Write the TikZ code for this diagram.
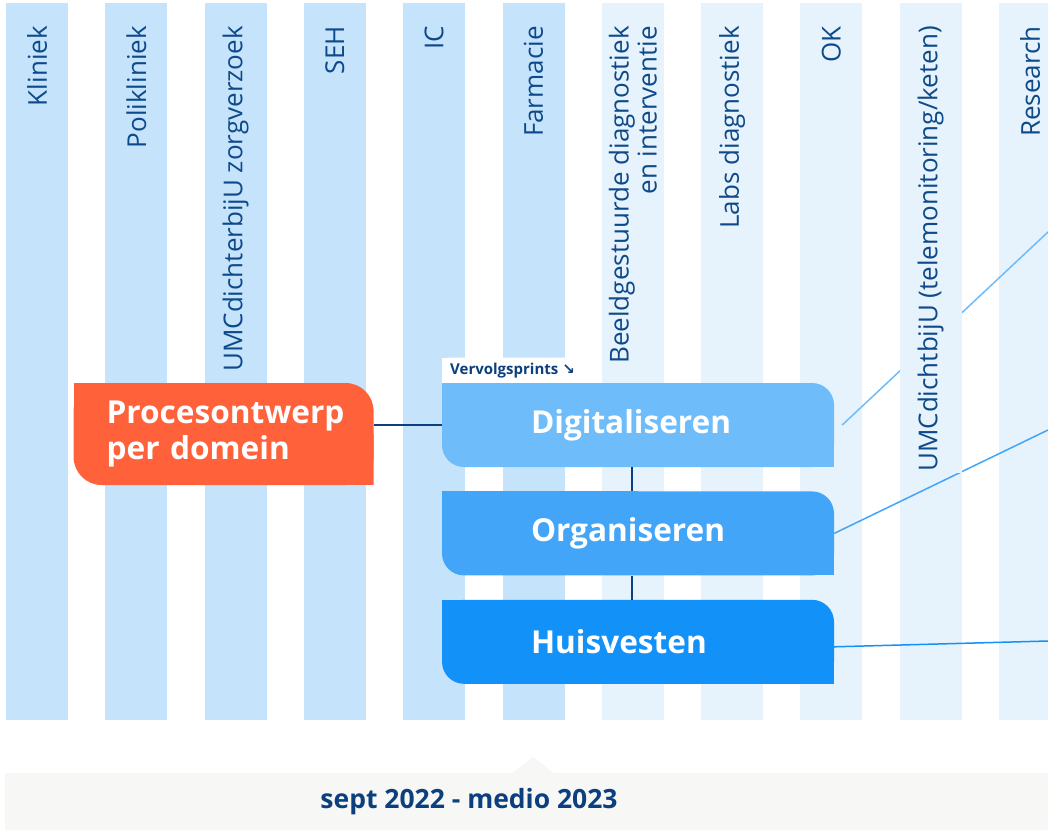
\documentclass[tikz,border=0pt]{standalone}
\usepackage{fontspec}
\setmainfont{Open Sans}
\newfontfamily\arrowfont{DejaVu Sans}
\usetikzlibrary{positioning,calc}
\definecolor{stripedark}{HTML}{C6E3FC}
\definecolor{stripelight}{HTML}{E6F2FC}
\definecolor{labelblue}{HTML}{0E4A8A}
\definecolor{navy}{HTML}{0B3F7E}
\definecolor{domeinorange}{HTML}{FF623A}
\definecolor{digiblue}{HTML}{6EBCF9}
\definecolor{orgblue}{HTML}{42A5F8}
\definecolor{huisblue}{HTML}{1292F8}
\definecolor{bandgray}{HTML}{F7F7F5}

\tikzset{
  collabel/.style={rotate=90,anchor=east,inner xsep=1pt,inner ysep=0pt,minimum height=62pt,
    align=right,text=labelblue,font=\fontsize{26}{28}\selectfont},
  halfround/.style 2 args={path picture={
    \fill[#1,rounded corners=#2] (path picture bounding box.north west) rectangle (path picture bounding box.south east);
    \fill[#1] (path picture bounding box.north west) rectangle (path picture bounding box.center);
    \fill[#1] (path picture bounding box.center) rectangle (path picture bounding box.south east);}},
  sprintbox/.style={halfround={#1}{22pt},minimum width=392pt,minimum height=84pt,text width=214pt,
    inner xsep=89pt,inner ysep=0pt,align=left,text=white,font=\bfseries\fontsize{31.6}{38}\selectfont},
  domeinbox/.style={halfround={domeinorange}{28pt},minimum width=300pt,minimum height=102pt,text width=234pt,
    inner xsep=33pt,inner ysep=0pt,align=left,text=white,font=\bfseries\fontsize{31.6}{36}\selectfont},
  tabbox/.style={path picture={
    \fill[white,rounded corners=8pt] (path picture bounding box.north west) rectangle (path picture bounding box.south east);
    \fill[white] (path picture bounding box.north west) rectangle (path picture bounding box.center);
    \fill[white] (path picture bounding box.west) rectangle (path picture bounding box.south east);},
    minimum width=145pt,minimum height=25pt,inner sep=0pt,text=navy,font=\bfseries\fontsize{15}{18}\selectfont},
  link/.style={draw=navy,line width=1.5pt},
  spoke/.style={line width=1.5pt}
}

\begin{document}
\begin{tikzpicture}[x=1pt,y=-1pt]
  \useasboundingbox[fill=white] (0,0) rectangle (1048,830);
  % domain columns
  \foreach \i in {0,...,10}{
    \ifnum\i<6 \def\stripecol{stripedark}\else\def\stripecol{stripelight}\fi
    \fill[\stripecol] (6+99.3*\i,3) rectangle +(62,717);
  }

  % time band
  \fill[bandgray] (5,773) rectangle (1048,830);
  \fill[bandgray] (511,774) -- (533,757) -- (555,774) -- cycle;
  \node[font=\bfseries\fontsize{26.5}{30}\selectfont,text=navy] (period) at (469,802) {sept 2022 - medio 2023};

  % sprints
  \node[sprintbox=digiblue] (digi) at (638,425) {Digitaliseren};
  \node[sprintbox=orgblue,below=24pt of digi] (org) {Organiseren};
  \node[sprintbox=huisblue,below=24pt of org] (huis) {Huisvesten};
  \node[tabbox,anchor=south west] (tab) at (digi.north west) {\hspace*{-4pt}Vervolgsprints {\arrowfont ↘}};
  \node[domeinbox,left=68pt of digi.north west,anchor=north east] (proc) {\mbox{Procesontwerp}\\per domein};

  \draw[link] (digi.west) -- (digi.west -| proc.east);
  \draw[link] ([xshift=-6pt]digi.south) -- ([xshift=-6pt]org.north);
  \draw[link] ([xshift=-6pt]org.south) -- ([xshift=-6pt]huis.north);

  \coordinate (digiend) at (1048,232);
  \coordinate (orgend) at (1048,430);
  \coordinate (huisend) at (1048,641);
  \draw[spoke,digiblue] ([xshift=8pt]digi.east) -- (digiend);
  \draw[spoke,orgblue] (org.east) -- (orgend);
  \draw[spoke,huisblue] ([yshift=-5pt]huis.east) -- (huisend);

  % column labels
  \foreach \lab [count=\i from 0] in {Kliniek,Polikliniek,UMCdichterbijU zorgverzoek,SEH,IC,Farmacie,
      {Beeldgestuurde diagnostiek\\en interventie},Labs diagnostiek,OK,{UMCdichtbijU (telemonitoring/keten)},Research}{
    \ifnum\i<6 \def\stripecol{stripedark}\else\def\stripecol{stripelight}\fi
    \node[collabel,fill=\stripecol] (col\i) at (37+99.3*\i,25) {\lab};
  }
\end{tikzpicture}
\end{document}
